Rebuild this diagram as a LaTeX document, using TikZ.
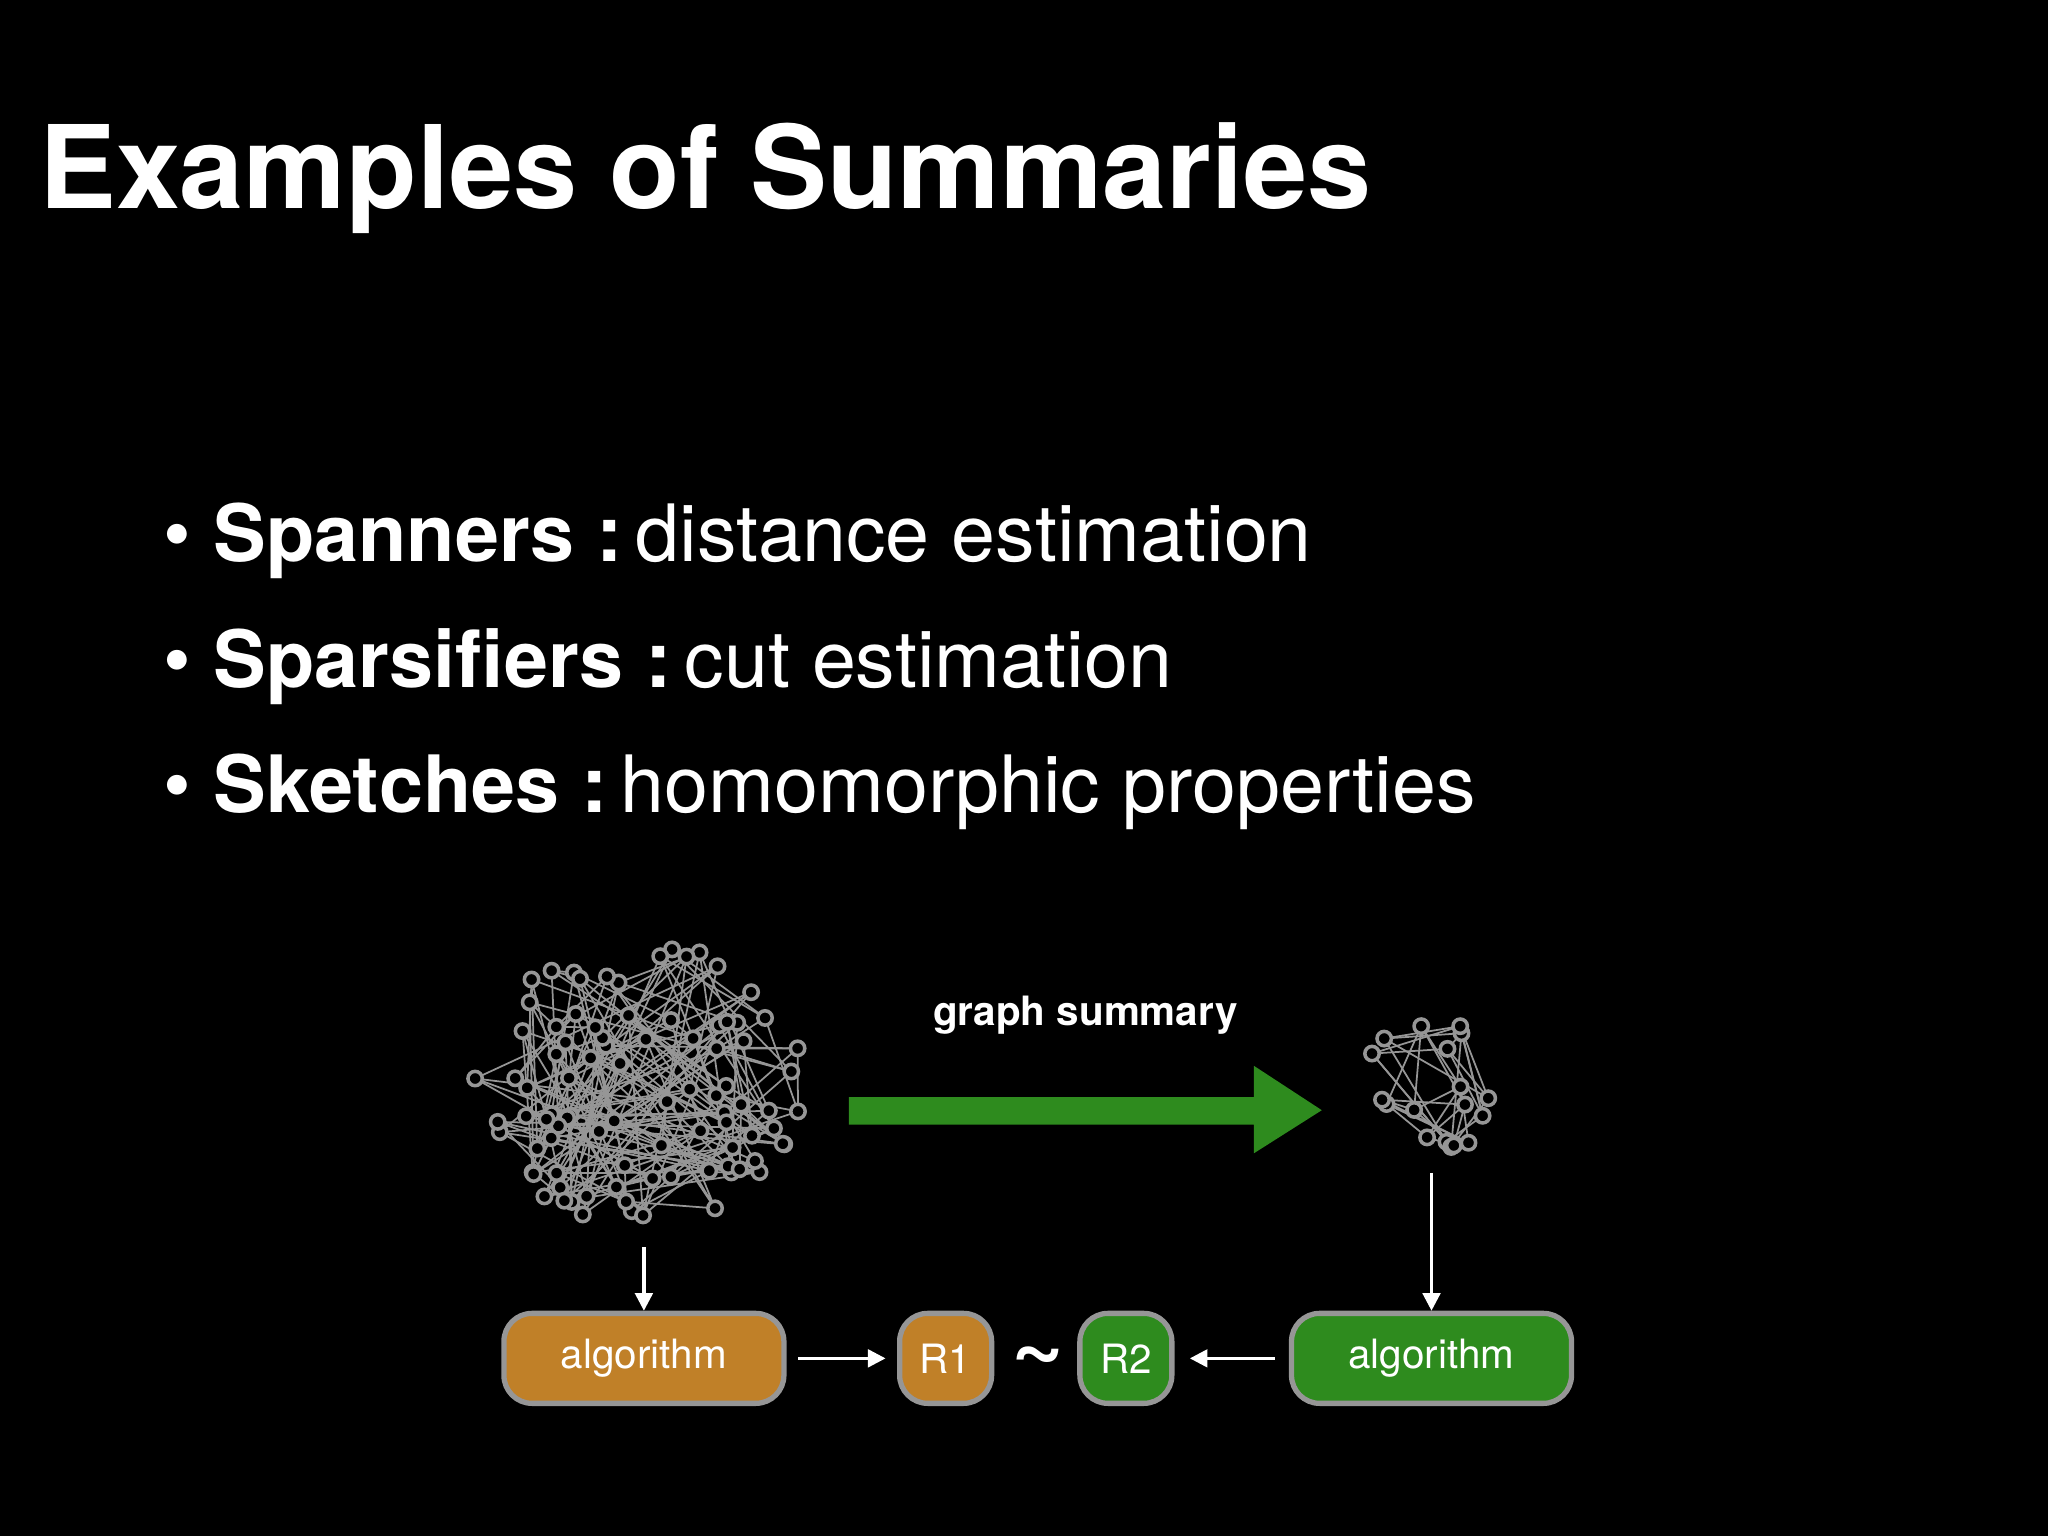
\documentclass[tikz,border=0pt]{standalone}
\usepackage{fontspec}
\setmainfont{TeX Gyre Heros}
\usetikzlibrary{arrows.meta}
\definecolor{gr}{RGB}{46,139,30}
\definecolor{og}{RGB}{192,128,40}
\definecolor{ed}{RGB}{150,150,150}
\tikzset{
  box/.style={draw=ed,line width=1.5pt,rounded corners=8pt,minimum height=0.9cm,text=white,font=\fontsize{11.5pt}{14pt}\selectfont},
  arr/.style={white,line width=0.9pt,-{Triangle[length=5pt,width=5pt]}},
  gnode/.style={draw=ed,line width=1pt,fill=black},
  bul/.style={anchor=base west,text=white,font=\fontsize{22.5pt}{27pt}\selectfont}
}
\begin{document}
\begin{tikzpicture}[x=0.013061cm,y=-0.013061cm]
\fill[black] (0,0) rectangle (1568,1176);
\useasboundingbox (0,0) rectangle (1568,1176);
\node[anchor=base west,text=white,font=\fontsize{32.8pt}{38pt}\selectfont\bfseries,inner sep=0pt] (title) at (30,160) {Examples of Summaries};
\node[bul] (b1) at (116,430) {•\ \textbf{Spanners :}\,distance estimation};
\node[bul] (b2) at (116,526) {•\ \textbf{Sparsifiers :}\,cut estimation};
\node[bul] (b3) at (116,622) {•\ \textbf{Sketches :}\,homomorphic properties};
% big graph
\pgfmathsetseed{7}
\foreach \i in {1,...,90}{
  \pgfmathsetmacro\a{rnd*360}\pgfmathsetmacro\r{pow(rnd,0.4)}
  \coordinate (g\i) at ({490+128*\r*cos(\a)},{830+108*\r*sin(\a)});
}
\foreach \i in {1,...,90}{
  \pgfmathtruncatemacro\j{mod(\i+2,90)+1}\pgfmathtruncatemacro\k{mod(\i+10,90)+1}
  \draw[ed,line width=0.5pt] (g\i)--(g\j) (g\i)--(g\k);
}
\foreach \i in {1,...,90}{\draw[gnode] (g\i) circle (5.5);}
% small graph
\foreach \i in {1,...,18}{
  \pgfmathsetmacro\a{rnd*360}\pgfmathsetmacro\r{pow(rnd,0.4)}
  \coordinate (s\i) at ({1095+52*\r*cos(\a)},{832+52*\r*sin(\a)});
}
\foreach \i in {1,...,18}{
  \pgfmathtruncatemacro\j{mod(\i+1,18)+1}\pgfmathtruncatemacro\k{mod(\i+5,18)+1}
  \draw[ed,line width=0.5pt] (s\i)--(s\j) (s\i)--(s\k);
}
\foreach \i in {1,...,18}{\draw[gnode] (s\i) circle (5.5);}
\coordinate (bigc) at (493,955);
\coordinate (smc) at (1096,898);
\coordinate (h1s) at (611,1040);
\coordinate (h1e) at (678,1040);
\coordinate (h2s) at (976,1040);
\coordinate (h2e) at (911,1040);
% big arrow
\fill[gr] (650,840) -- (960,840) -- (960,816) -- (1012,850) -- (960,883) -- (960,861) -- (650,861) -- cycle;
\node[text=white,font=\fontsize{11.5pt}{14pt}\selectfont\bfseries] (gs) at (831,777) {graph summary};
% boxes
\node[box,fill=og,minimum width=2.8cm] (a1) at (493,1040) {algorithm};
\node[box,fill=og,minimum width=0.92cm] (r1) at (724,1040) {R1};
\node[box,fill=gr,minimum width=0.92cm] (r2) at (862,1040) {R2};
\node[box,fill=gr,minimum width=2.8cm] (a2) at (1096,1040) {algorithm};
\node[text=white,font=\fontsize{26pt}{28pt}\selectfont\bfseries] (tl) at (795,1042) {\char"7E};
\draw[arr] (bigc) -- (a1.north);
\draw[arr] (smc) -- (a2.north);
\draw[arr] (h1s) -- (h1e);
\draw[arr] (h2s) -- (h2e);
\end{tikzpicture}
\end{document}
